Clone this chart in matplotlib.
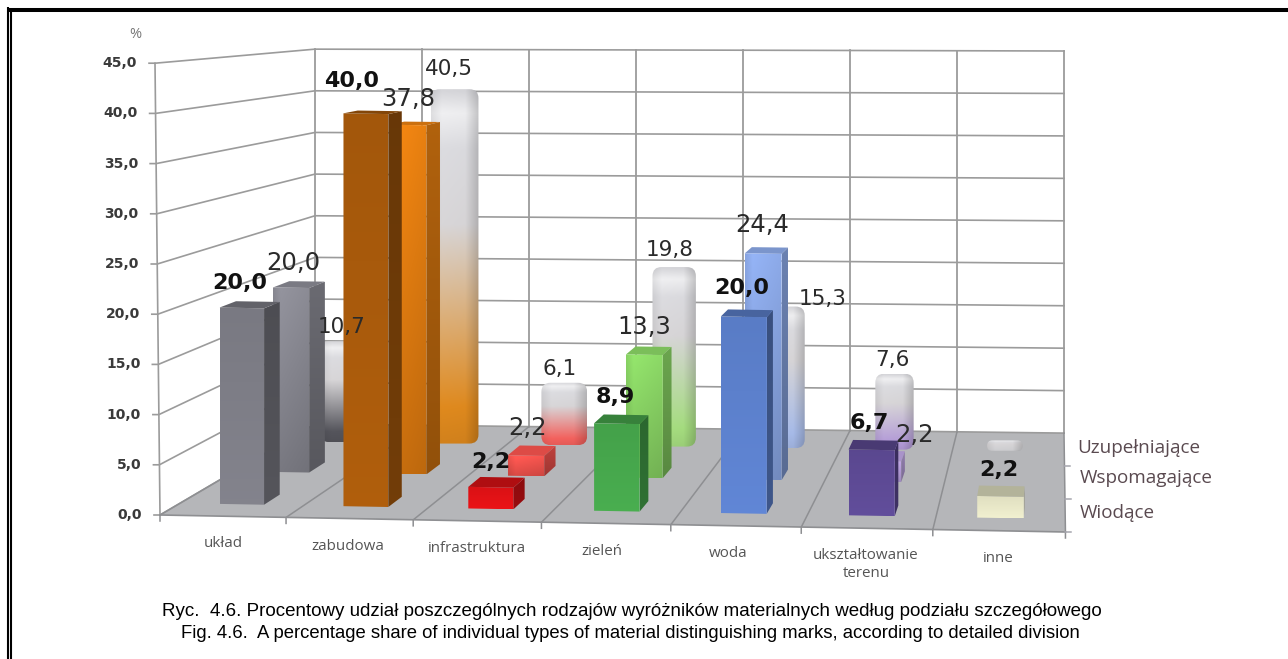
import numpy as np
import matplotlib
matplotlib.use('Agg')
import matplotlib.pyplot as plt
from matplotlib.patches import Polygon, FancyBboxPatch

categories = ['układ', 'zabudowa', 'infrastruktura', 'zieleń', 'woda', 'ukształtowanie\nterenu', 'inne']
series_names = ['Wiodące', 'Wspomagające', 'Uzupełniające']
wiodace = [20.0, 40.0, 2.2, 8.9, 20.0, 6.7, 2.2]
wspomagajace = [20.0, 37.8, 2.2, 13.3, 24.4, 2.2, 0.0]
uzupelniajace = [10.7, 40.5, 6.1, 19.8, 15.3, 7.6, 0.0]
y_ticks = [0, 5, 10, 15, 20, 25, 30, 35, 40, 45]

# colours per category, one list per series
front_colors = ['#7d7d86', '#a85a0c', '#e01216', '#46a64c', '#5c80cc', '#5d4a94', '#e6e5c6']
mid_colors = ['#85858e', '#dd7a10', '#f0524c', '#86cf62', '#86a2de', '#b8a0dc', '#b5b6b9']
back_colors = ['#55555c', '#e08a1e', '#f4625e', '#a6de80', '#a8bcea', '#b49cd8', '#cfcfd2']

# depth of each series on the floor, 0 = front edge, 1 = back wall
DEPTHS = [0.13, 0.48, 0.81]
BAR_DEPTH = 0.11

# label shifts from the bar top, in pixels
front_shift = [(-2, -25), (-14, -33), (0, -25), (-2, -27), (-2, -29), (-2, -27), (-2, -26)]
mid_shift = [(1, -25), (-2, -26), (0, -28), (-2, -28), (-3, -29), (30, -26), (0, 0)]
back_shift = [(1, -22), (-3, -23), (-3, -23), (-4, -24), (38, -15), (-4, -23), (0, 0)]
cat_shift = [0, -2, 0, -4, -8, -1, -1]


def project(c, t, v=0.0):
    # 3D look: category, depth and value to picture pixels
    x = (160 + 125.5 * c + 0.55 * c ** 2) * (1 - t) + (315 + 107 * c) * t
    y = (515 + 2.43 * c) * (1 - t) + (424 + 1.3 * c) * t
    return x, y - v * (10.04 - 1.71 * t + 0.023 * c * t)


def rgb(color):
    return np.array(matplotlib.colors.to_rgb(color))


def shade(color, k):
    return tuple(np.clip(rgb(color) * k, 0, 1))


def gradient_fill(ax, patch, stops, profile=None, z=3):
    # paint a vertical gradient, with optional left-right shading, inside a patch
    patch.set_facecolor('none')
    patch.set_edgecolor('none')
    patch.set_zorder(z)
    ax.add_patch(patch)
    box = patch.get_path().transformed(patch.get_patch_transform()).get_extents()
    pos = np.linspace(0, 1, 80)
    cols = np.stack([np.interp(pos, [s[0] for s in stops], [rgb(s[1])[i] for s in stops]) for i in range(3)], axis=1)
    img = np.repeat(cols[:, None, :], 40, axis=1)
    if profile is not None:
        xs = np.linspace(0, 1, 40)
        img = img * np.interp(xs, [p[0] for p in profile], [p[1] for p in profile])[None, :, None]
    im = ax.imshow(np.clip(img, 0, 1), extent=(box.x0, box.x1, box.y1, box.y0), aspect='auto',
                   interpolation='bilinear', zorder=z)
    im.set_clip_path(patch)


def draw_box(ax, c, t, v, left, right, color, z):
    a, b = c + left, c + right
    t2 = t + BAR_DEPTH
    face = [project(a, t, 0), project(b, t, 0), project(b, t, v), project(a, t, v)]
    side = [project(b, t, 0), project(b, t2, 0), project(b, t2, v), project(b, t, v)]
    top = [project(a, t, v), project(b, t, v), project(b, t2, v), project(a, t2, v)]
    gradient_fill(ax, Polygon(face), [(0, shade(color, 0.97)), (1, shade(color, 1.05))], z=z)
    gradient_fill(ax, Polygon(side), [(0, shade(color, 0.62)), (1, shade(color, 0.68))], z=z)
    ax.add_patch(Polygon(top, facecolor=shade(color, 0.78), edgecolor='none', zorder=z))


def draw_soft_box(ax, c, t, v, color, z):
    # middle row: lighter bar with a soft bevel
    a, b = c + 0.33, c + 0.64
    t2 = t + BAR_DEPTH
    face = [project(a, t, 0), project(b, t, 0), project(b, t, v), project(a, t, v)]
    side = [project(b, t, 0), project(b, t2, 0), project(b, t2, v), project(b, t, v)]
    top = [project(a, t, v), project(b, t, v), project(b, t2, v), project(a, t2, v)]
    ax.add_patch(Polygon(top, facecolor=shade(color, 0.92), edgecolor='none', zorder=z))
    gradient_fill(ax, Polygon(face), [(0, shade(color, 1.08)), (1, shade(color, 0.88))],
                  profile=[(0, 0.94), (0.2, 1.03), (1, 0.97)], z=z)
    gradient_fill(ax, Polygon(side), [(0, shade(color, 0.8)), (1, shade(color, 0.66))], z=z)


def draw_round_box(ax, c, t, v, color, z):
    # back row: rounded bar fading from silver at the top to the colour at the foot
    x0 = project(c + 0.31, t, 0)[0]
    x1 = project(c + 0.62, t + BAR_DEPTH, 0)[0]
    y0 = project(c + 0.5, t + BAR_DEPTH, v)[1]
    y1 = project(c + 0.5, t, 0)[1]
    r = min(9, (y1 - y0) / 2)
    box = FancyBboxPatch((x0 + r, y0 + r), x1 - x0 - 2 * r, y1 - y0 - 2 * r,
                         boxstyle='round,pad=%f,rounding_size=%f' % (r, r))
    gradient_fill(ax, box, [(0, '#d6d6da'), (0.06, '#f0f0f2'), (0.16, '#dcdce0'), (0.38, '#d8d6d8'),
                            (0.9, color), (1, shade(color, 0.94))],
                  profile=[(0, 0.93), (0.22, 1.0), (0.72, 0.99), (1, 0.82)], z=z)


def main():
    fig = plt.figure(figsize=(12.88, 6.59), dpi=100, facecolor='white')
    ax = fig.add_axes([0, 0, 1, 1])
    grid = '#9b9b9b'
    n = len(categories)

    # floor
    ax.add_patch(Polygon([project(0, 0), project(0, 1), project(n, 1), project(n, 0)],
                         facecolor='#b5b6b9', edgecolor='none', zorder=1))

    # walls: value lines on the left and back, category lines on the back and floor
    for v in y_ticks:
        lean = 0.11 * v
        x_f, y_f = project(0, 0, v)
        x_b, y_b = project(0, 1, v)
        x_r, y_r = project(n, 1, v)
        ax.plot([x_f - lean - 6, x_f - lean, x_b, x_r], [y_f, y_f, y_b, y_r], color=grid, lw=1.2, zorder=2)
        ax.text(x_f - lean - 18, y_f, ('%.1f' % v).replace('.', ','), ha='right', va='center',
                fontsize=10, fontweight='bold', color='#3a3a3a', zorder=8)
    ax.plot([project(0, 0, 45)[0] - 5, project(0, 0)[0]], [project(0, 0, 45)[1], project(0, 0)[1]], color=grid, lw=1.2, zorder=2)
    for c in range(n + 1):
        xb, yb = project(c, 1)
        ax.plot([xb, xb], [project(c, 1, 45)[1], yb], color=grid, lw=1.3, zorder=2)
        xf, yf = project(c, 0)
        ax.plot([xb, xf, xf], [yb, yf, yf + 6], color='#8e8f92', lw=1.1, zorder=2)
    ax.plot([project(0, 0)[0], project(n, 0)[0]], [project(0, 0)[1], project(n, 0)[1]], color='#8e8f92', lw=1.2, zorder=2)
    for t in [0, 1 / 3, 2 / 3]:
        xr, yr = project(n, t)
        ax.plot([xr, xr + 6], [yr, yr], color='#a6a6ae', lw=1.1, zorder=2)

    # bars, back row first
    for c in range(n):
        draw_round_box(ax, c, DEPTHS[2], uzupelniajace[c], back_colors[c], 3)
    for c in range(n):
        if wspomagajace[c] > 0:
            draw_soft_box(ax, c, DEPTHS[1], wspomagajace[c], mid_colors[c], 4)
    for c in range(n):
        draw_box(ax, c, DEPTHS[0], wiodace[c], 0.32, 0.68, front_colors[c], 5)

    # value labels
    rows = [(wiodace, DEPTHS[0], front_shift, 16, 'bold', '#111111'),
            (wspomagajace, DEPTHS[1], mid_shift, 17.5, 'normal', '#2a2a2a'),
            (uzupelniajace, DEPTHS[2], back_shift, 15.5, 'normal', '#2a2a2a')]
    for values, t, shifts, size, weight, color in rows:
        for c, v in enumerate(values):
            if v == 0:
                continue
            x, y = project(c + 0.5, t, v)
            ax.text(x + shifts[c][0], y + shifts[c][1], ('%.1f' % v).replace('.', ','), ha='center', va='center',
                    fontsize=size, fontweight=weight, color=color, zorder=9)

    # category labels
    for c, name in enumerate(categories):
        x, y = project(c + 0.5, 0)
        ax.text(x + cat_shift[c], y + 20, name, ha='center', va='top', fontsize=10.9, color='#555555',
                family='Open Sans', linespacing=1.25, zorder=8)

    ax.text(135, 34, '%', ha='center', va='center', fontsize=10.5, color='#777777', family='Open Sans')

    # series names
    for name, x, y in zip(series_names, [1080, 1080, 1077], [513, 478, 448]):
        ax.text(x, y, name, ha='left', va='center', fontsize=13.6, color='#5a4a50', family='Open Sans')

    # caption
    ax.text(632, 611, 'Ryc.  4.6. Procentowy udział poszczególnych rodzajów wyróżników materialnych według podziału szczegółowego',
            ha='center', va='center', fontsize=13.5, family='Liberation Sans', color='black')
    ax.text(630, 634, 'Fig. 4.6.  A percentage share of individual types of material distinguishing marks, according to detailed division',
            ha='center', va='center', fontsize=13.3, family='Liberation Sans', color='black')

    # page frame
    ax.plot([7, 1288], [10, 10], color='black', lw=2.9, solid_capstyle='butt', zorder=10)
    ax.plot([8, 8], [7, 659], color='black', lw=1.5, solid_capstyle='butt', zorder=10)
    ax.plot([11, 11], [11, 659], color='black', lw=1.5, solid_capstyle='butt', zorder=10)

    ax.set_xlim(0, 1288)
    ax.set_ylim(659, 0)
    ax.axis('off')
    fig.savefig('out.png', dpi=100)


if __name__ == '__main__':
    main()
